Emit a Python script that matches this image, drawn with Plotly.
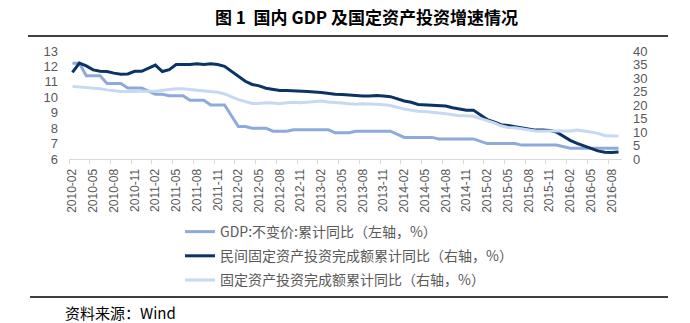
import plotly.graph_objects as go
import pandas as pd

# ---- data ----
months = [p.strftime("%Y-%m") for p in pd.period_range("2010-02", "2016-09", freq="M")]

gdp = [12.2, 12.2, 11.4, 11.4, 11.4, 10.9, 10.9, 10.9, 10.6, 10.6, 10.6,
       None, 10.2, 10.2, 10.1, 10.1, 10.1, 9.8, 9.8, 9.8, 9.5, 9.5, 9.5,
       None, 8.1, 8.1, 8.0, 8.0, 8.0, 7.8, 7.8, 7.8, 7.9, 7.9, 7.9,
       None, 7.9, 7.9, 7.7, 7.7, 7.7, 7.8, 7.8, 7.8, 7.8, 7.8, 7.8,
       None, 7.4, 7.4, 7.4, 7.4, 7.4, 7.3, 7.3, 7.3, 7.3, 7.3, 7.3,
       None, 7.0, 7.0, 7.0, 7.0, 7.0, 6.9, 6.9, 6.9, 6.9, 6.9, 6.9,
       None, 6.7, 6.7, 6.7, 6.7, 6.7, 6.7, 6.7, 6.7]

private_fai = [32.1, 35.5, 34.5, 33.0, 32.5, 32.4, 31.8, 31.4, 31.5, 32.5, 32.5,
               None, 34.8, 32.4, 33.1, 35.0, 34.9, 35.0, 35.3, 35.0, 35.3, 35.0, 34.3,
               None, 30.6, 28.8, 27.6, 27.1, 26.2, 25.7, 25.4, 25.4, 25.3, 25.2, 25.0,
               None, 24.6, 24.2, 24.0, 23.9, 23.7, 23.3, 23.3, 23.3, 23.5, 23.3, 23.1,
               None, 21.5, 21.0, 20.2, 20.0, 19.8, 19.8, 19.6, 19.0, 18.5, 18.1, 18.1,
               None, 14.6, 13.7, 12.7, 12.4, 12.0, 11.5, 11.0, 10.7, 10.7, 10.6, 10.0,
               None, 6.9, 5.8, 4.9, 3.8, 3.0, 2.5, 2.4, 2.6]

fai = [26.9, 26.7, 26.5, 26.3, 26.0, 25.6, 25.2, 25.0, 25.0, 25.1, 25.1,
       None, 25.1, 25.5, 25.7, 26.0, 26.0, 25.7, 25.5, 25.2, 25.1, 24.7, 24.1,
       None, 22.0, 21.3, 20.6, 20.6, 20.8, 20.7, 20.5, 20.8, 21.0, 20.8, 21.1,
       None, 21.5, 21.1, 20.8, 20.7, 20.5, 20.3, 20.5, 20.5, 20.3, 20.1, 19.8,
       None, 18.5, 18.0, 17.7, 17.6, 17.4, 17.0, 16.8, 16.4, 16.0, 16.0, 15.8,
       None, 14.2, 13.4, 12.3, 11.7, 11.6, 11.2, 10.7, 10.4, 10.4, 10.4, 10.3,
       None, 10.4, 10.7, 10.4, 10.0, 9.5, 8.7, 8.5, 8.5]

names = ["GDP:不变价:累计同比（左轴，%）",
         "民间固定资产投资完成额累计同比（右轴，%）",
         "固定资产投资完成额累计同比（右轴，%）"]
title_text = "图 1  国内 GDP 及国定资产投资增速情况"
source_text = "资料来源：Wind"

idx = list(range(len(months)))
tick_idx = idx[::3]
tick_txt = months[::3]

# ---- figure ----
W, H = 690, 323
L, R, T, B = 69, 68, 51, 164
pw, ph = W - L - R, H - T - B

def px_x(x):
    return (x - L) / pw

def px_y(y):
    return (H - B - y) / ph

grey = "#595959"
cjk = "Noto Sans CJK SC"
lat = "Liberation Sans, Arial"

fig = go.Figure()
fig.add_trace(go.Scatter(x=idx, y=gdp, name=names[0], mode="lines", yaxis="y",
                         legendgroup="a", connectgaps=True,
                         line=dict(color="#8EAADB", width=3)))
fig.add_trace(go.Scatter(x=idx, y=private_fai, name=names[1], mode="lines", yaxis="y2",
                         legendgroup="b", connectgaps=True,
                         line=dict(color="#0B3366", width=3)))
fig.add_trace(go.Scatter(x=idx, y=fai, name=names[2], mode="lines", yaxis="y2",
                         legendgroup="c", connectgaps=True,
                         line=dict(color="#C6D9F1", width=3)))

fig.update_layout(
    width=W, height=H,
    margin=dict(l=L, r=R, t=T, b=B, pad=0),
    paper_bgcolor="white", plot_bgcolor="white",
    showlegend=True,
    legend=dict(x=px_x(180), y=px_y(216), xanchor="left", yanchor="top",
                font=dict(family=cjk, size=14, color=grey),
                bgcolor="rgba(0,0,0,0)", tracegroupgap=3, itemwidth=30,
                traceorder="grouped"),
    xaxis=dict(range=[-0.5, len(idx) - 0.5], tickmode="array", tickvals=tick_idx,
               ticktext=tick_txt, tickangle=-90, ticks="", showgrid=False, zeroline=False,
               showline=True, linecolor="#D9D9D9", linewidth=1,
               tickfont=dict(family=lat, size=12, color=grey), automargin=False,
               ticklabelstandoff=4,
               minor=dict(tickmode="linear", tick0=-0.5, dtick=3, ticks="outside",
                          ticklen=4, tickcolor="#D9D9D9", tickwidth=1, showgrid=False)),
    yaxis=dict(range=[6, 13], dtick=1, showgrid=False, zeroline=False, showline=False,
               ticks="", tickfont=dict(family=lat, size=13, color=grey), automargin=False,
               ticklabelstandoff=10),
    yaxis2=dict(range=[0, 40], dtick=5, overlaying="y", side="right", showgrid=False,
                zeroline=False, showline=False, ticks="",
                tickfont=dict(family=lat, size=13, color=grey), automargin=False,
                ticklabelstandoff=10),
    annotations=[
        dict(text=title_text, xref="paper", yref="paper", x=px_x(366), y=px_y(17),
             xanchor="center", yanchor="middle", showarrow=False,
             font=dict(family=cjk, size=17, color="black", weight="bold")),
        dict(text=source_text, xref="paper", yref="paper", x=px_x(63), y=px_y(312),
             xanchor="left", yanchor="middle", showarrow=False,
             font=dict(family=cjk, size=15, color="black")),
    ],
    shapes=[
        dict(type="line", xref="paper", yref="paper", x0=px_x(28), x1=px_x(668),
             y0=px_y(36), y1=px_y(36), line=dict(color="black", width=1.5)),
        dict(type="line", xref="paper", yref="paper", x0=px_x(30), x1=px_x(668),
             y0=px_y(297), y1=px_y(297), line=dict(color="black", width=1.5)),
    ],
)

fig.write_html("out.html")
